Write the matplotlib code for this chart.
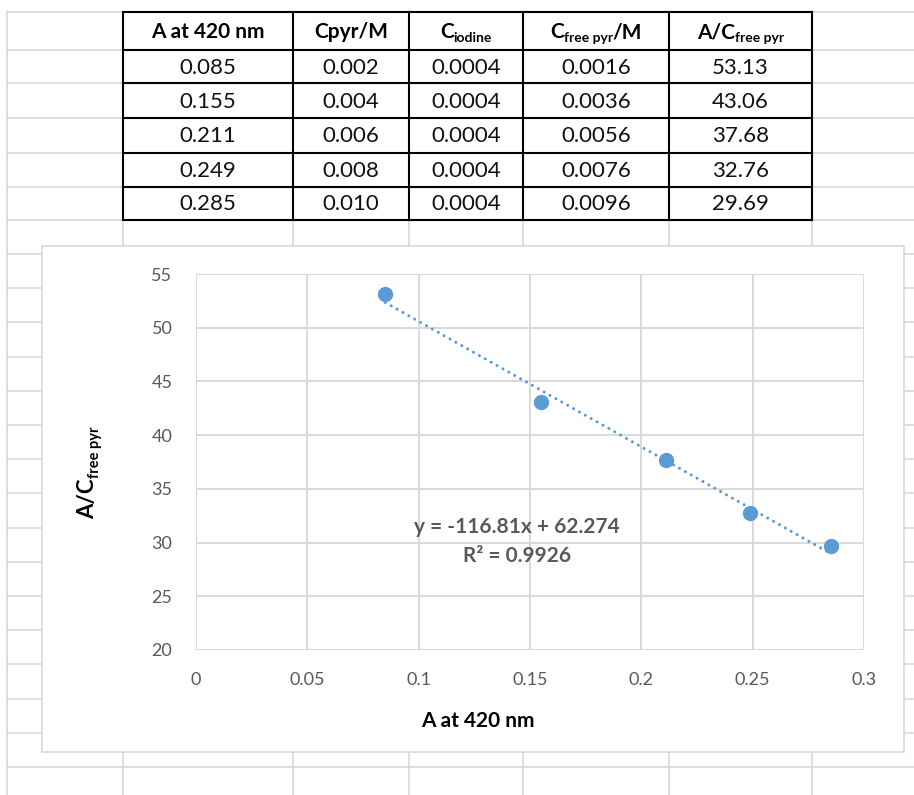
import numpy as np
import matplotlib
matplotlib.use("Agg")
import matplotlib.pyplot as plt
from matplotlib.patches import Rectangle

# data
a420 = [0.085, 0.155, 0.211, 0.249, 0.285]
c_pyr = [0.002, 0.004, 0.006, 0.008, 0.010]
c_iodine = [0.0004, 0.0004, 0.0004, 0.0004, 0.0004]
c_free = [0.0016, 0.0036, 0.0056, 0.0076, 0.0096]
ratio = [53.13, 43.06, 37.68, 32.76, 29.69]
slope, intercept, r2 = -116.81, 62.274, 0.9926

# header pieces: (text, is_subscript)
headers = [[('A at 420 nm', False)],
           [('Cpyr/M', False)],
           [('C', False), ('iodine', True)],
           [('C', False), ('free pyr', True), ('/M', False)],
           [('A/C', False), ('free pyr', True)]]
ylabel_parts = [('A/C', False), ('free pyr', True)]
x_ticks = [0, 0.05, 0.1, 0.15, 0.2, 0.25, 0.3]
y_ticks = [20, 25, 30, 35, 40, 45, 50, 55]

plt.rcParams['font.family'] = ['Lato', 'DejaVu Sans']

W, H = 914, 795
fig = plt.figure(figsize=(W / 100, H / 100), dpi=100)
renderer = fig.canvas.get_renderer()

# background sheet, pixel coordinates
bg = fig.add_axes([0, 0, 1, 1])
bg.set_xlim(0, W)
bg.set_ylim(H, 0)
bg.axis('off')


def rich_text(cx, cy, parts, size, sub_size, sub_drop, rotation=0, zorder=6):
    # bold text with subscripts, centred on (cx, cy) in pixels
    widths = []
    for s, sub in parts:
        t = bg.text(0, 0, s, fontsize=sub_size if sub else size, fontweight='bold')
        widths.append(t.get_window_extent(renderer).width)
        t.remove()
    total = sum(widths)
    cap = 0.72 * size * 100 / 72
    pos = -total / 2
    for (s, sub), w in zip(parts, widths):
        drop = sub_drop if sub else 0
        if rotation == 0:
            x, y = cx + pos, cy + cap / 2 + drop
        else:
            x, y = cx + cap / 2 + drop, cy - pos
        bg.text(x, y, s, fontsize=sub_size if sub else size, fontweight='bold',
                ha='left', va='baseline', rotation=rotation, rotation_mode='anchor',
                zorder=zorder)
        pos += w


sheet = '#d4d4d4'
col_x = [123, 293, 409, 523, 669, 812]
row_y = [12, 50, 83, 118, 153, 187, 220]
lower_rows = [254 + 34.2 * k for k in range(16)]

# spreadsheet gridlines
bg.plot([7, 7], [12, H], color=sheet, lw=1.1)
for y in row_y:
    bg.plot([7, 123], [y, y], color=sheet, lw=1.1)
    bg.plot([812, W], [y, y], color=sheet, lw=1.1)
for y in lower_rows:
    bg.plot([7, W], [y, y], color=sheet, lw=1.1)
for x in col_x:
    bg.plot([x, x], [220, H], color=sheet, lw=1.1)

# table
for x in col_x:
    bg.plot([x, x], [12, 220], color='black', lw=1.5, solid_capstyle='projecting')
for y in row_y:
    bg.plot([123, 812], [y, y], color='black', lw=1.5, solid_capstyle='projecting')

centers = [(col_x[i] + col_x[i + 1]) / 2 for i in range(5)]
for cx, h in zip(centers, headers):
    rich_text(cx, 31, h, 15, 10, 4)
cols = [[f'{v:.3f}' for v in a420], [f'{v:.3f}' for v in c_pyr],
        [f'{v:.4f}' for v in c_iodine], [f'{v:.4f}' for v in c_free],
        [f'{v:.2f}' for v in ratio]]
for cx, col in zip(centers, cols):
    for i, s in enumerate(col):
        yc = (row_y[i + 1] + row_y[i + 2]) / 2
        bg.text(cx, yc + 1, s, ha='center', va='center', fontsize=16, color='#111111')

# chart box
bg.add_patch(Rectangle((42, 246), 862, 506, facecolor='white',
                       edgecolor='#d9d9d9', lw=1.2, zorder=5))

# plot area
ax = fig.add_axes([196 / W, 1 - 650 / H, (864 - 196) / W, (650 - 274) / H], zorder=10)
ax.set_facecolor('white')
blue = '#5b9bd5'
xs = np.array([min(a420), max(a420)])
ax.plot(xs, slope * xs + intercept, color=blue, lw=2.2, linestyle=(0, (0.01, 2.2)),
        dash_capstyle='round', zorder=3)
ax.plot(a420, ratio, 'o', color=blue, markersize=10, zorder=4, clip_on=False)

ax.set_xlim(0, 0.3)
ax.set_ylim(20, 55)
ax.set_xticks(x_ticks)
ax.set_yticks(y_ticks)
ax.set_xticklabels([f'{t:g}' for t in x_ticks])
ax.grid(True, color='#d9d9d9', lw=1.4)
ax.set_axisbelow(True)
for s in ax.spines.values():
    s.set_visible(False)
ax.tick_params(length=0, labelsize=13, labelcolor='#595959')
ax.tick_params(axis='y', pad=17)
ax.tick_params(axis='x', pad=16)

# trendline label, placed in pixel coordinates
ax.text(517, 527, f'y = {slope}x + {intercept}', ha='center', va='center',
        fontsize=15, fontweight='bold', color='#595959', transform=bg.transData, zorder=6)
ax.text(517, 556, f'R² = {r2}', ha='center', va='center',
        fontsize=15, fontweight='bold', color='#595959', transform=bg.transData, zorder=6)

bg.text(478, 721, 'A at 420 nm', ha='center', va='center', fontsize=15,
        fontweight='bold', zorder=6)
rich_text(86, 473, ylabel_parts, 16, 10.5, 5, rotation=90)

fig.savefig('out.png', dpi=100, facecolor='white')
